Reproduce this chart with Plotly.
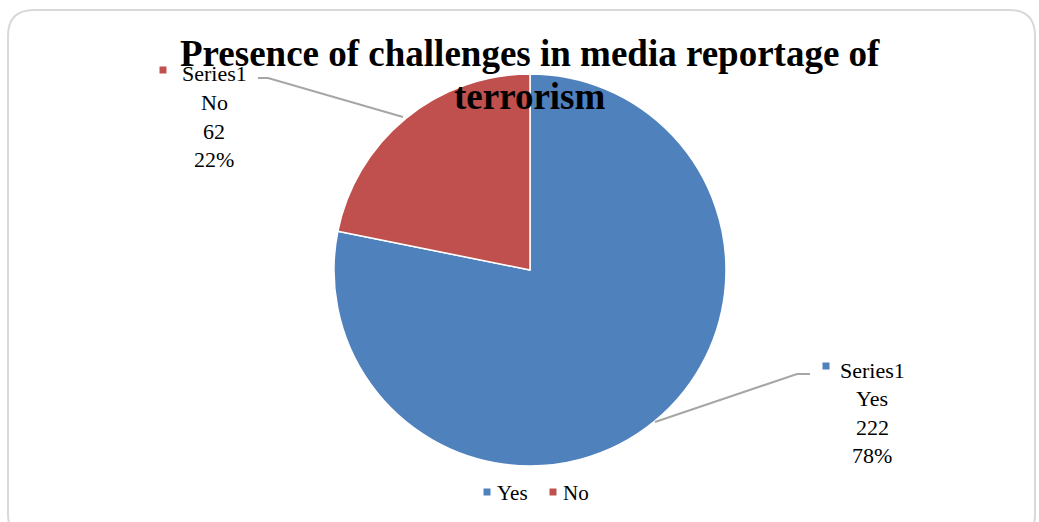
import plotly.graph_objects as go

W, H = 1039, 522
title_lines = ["Presence of challenges in media reportage of", "terrorism"]
series_name = "Series1"
categories = ["Yes", "No"]
values = [222, 62]
colors = ["#4F81BD", "#C0504D"]

def px(x):
    return x / W

def py(y):
    return 1 - y / H

total = sum(values)
pct = [f"{round(v * 100 / total)}%" for v in values]

fig = go.Figure(go.Pie(
    labels=categories, values=values, sort=False, direction="clockwise", rotation=0,
    marker=dict(colors=colors, line=dict(color="white", width=1.5)),
    textinfo="none", hoverinfo="label+value+percent",
    domain=dict(x=[px(334), px(726)], y=[py(466), py(74)]),
    showlegend=False,
))

font_serif = "Liberation Serif, Times New Roman, serif"
annotations = []
shapes = []

# rounded border
r = 26
x0, x1, y0, y1 = 8, 1035, 10, 540
path = (f"M {px(x0+r)} {py(y0)} L {px(x1-r)} {py(y0)} Q {px(x1)} {py(y0)} {px(x1)} {py(y0+r)} "
        f"L {px(x1)} {py(y1-r)} Q {px(x1)} {py(y1)} {px(x1-r)} {py(y1)} "
        f"L {px(x0+r)} {py(y1)} Q {px(x0)} {py(y1)} {px(x0)} {py(y1-r)} "
        f"L {px(x0)} {py(y0+r)} Q {px(x0)} {py(y0)} {px(x0+r)} {py(y0)} Z")
shapes.append(dict(type="path", path=path, xref="paper", yref="paper",
                   line=dict(color="#D9D9D9", width=2), layer="below"))

def square(cx, cy, color, s=3.5):
    return dict(type="rect", xref="paper", yref="paper", x0=px(cx - s), x1=px(cx + s),
                y0=py(cy + s), y1=py(cy - s), fillcolor=color, line=dict(width=0))

label_pos = {
    "Yes": dict(cx=872, y0=370, sq=(826, 366), leader=[(810, 374), (797, 374), (655, 422)]),
    "No": dict(cx=214, y0=74, sq=(163, 70), leader=[(258, 78), (268, 78), (403, 117)]),
}
step = 28.5
for i, cat in enumerate(categories):
    lp = label_pos[cat]
    lines = [series_name, cat, str(values[i]), pct[i]]
    for j, t in enumerate(lines):
        annotations.append(dict(text=t, x=px(lp["cx"]), y=py(lp["y0"] + j * step), xref="paper", yref="paper",
                                showarrow=False, xanchor="center", yanchor="middle",
                                font=dict(family=font_serif, size=22, color="#000000")))
    shapes.append(square(*lp["sq"], colors[i]))
    pts = lp["leader"]
    p = "M " + " L ".join(f"{px(a)} {py(b)}" for a, b in pts)
    shapes.append(dict(type="path", path=p, xref="paper", yref="paper",
                       line=dict(color="#A6A6A6", width=2)))

# manual legend
legend_x = [487, 553]
legend_y = 493
for i, cat in enumerate(categories):
    shapes.append(square(legend_x[i], legend_y - 1, colors[i]))
    annotations.append(dict(text=cat, x=px(legend_x[i] + 8), y=py(legend_y), xref="paper", yref="paper",
                            showarrow=False, xanchor="left", yanchor="middle",
                            font=dict(family=font_serif, size=21, color="#000000")))

for k, t in enumerate(title_lines):
    annotations.append(dict(text=f"<b>{t}</b>", x=px(530), y=py(54 + k * 42), xref="paper", yref="paper",
                            showarrow=False, xanchor="center", yanchor="middle",
                            font=dict(family=font_serif, size=37, color="#000000")))

fig.update_layout(
    width=W, height=H, margin=dict(l=0, r=0, t=0, b=0),
    paper_bgcolor="white", plot_bgcolor="white",
    showlegend=False,
    annotations=annotations, shapes=shapes,
)

fig.write_html("out.html", config={"displayModeBar": False},
               post_script="document.body.style.margin='0';")
